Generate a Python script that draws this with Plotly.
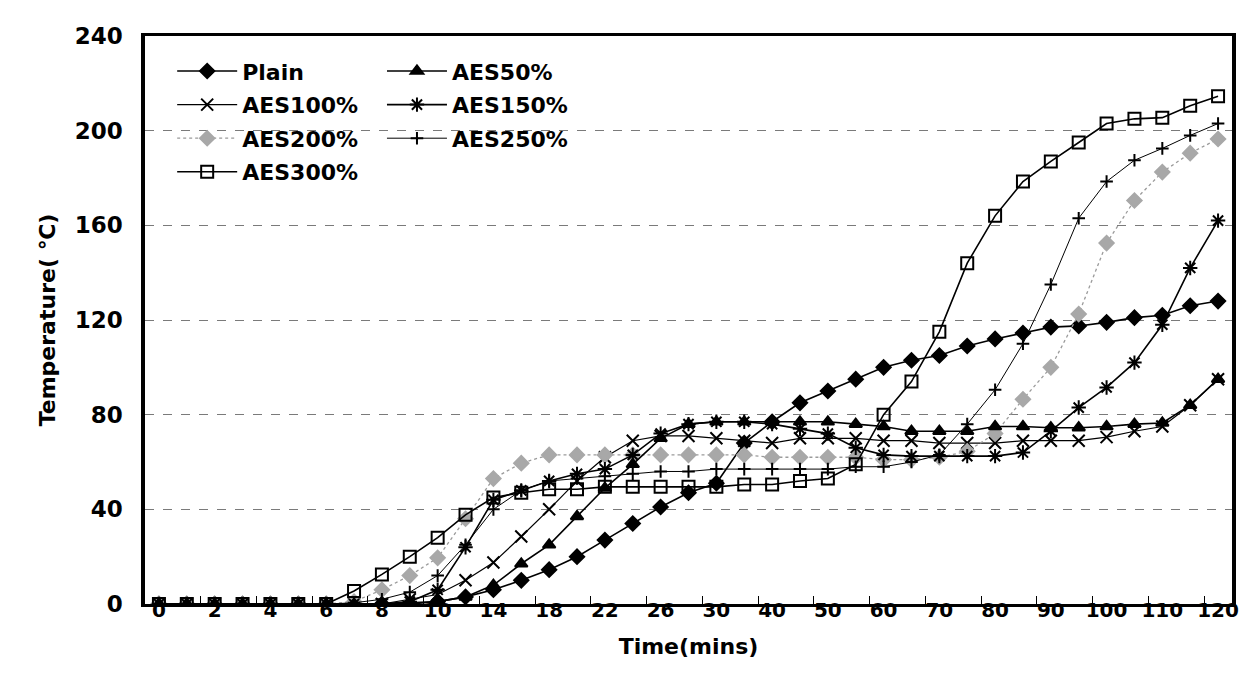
import plotly.graph_objects as go

# ---------------- data ----------------
time_cats = ["0", "1", "2", "3", "4", "5", "6", "7", "8", "9", "10", "12", "14", "16", "18", "20",
             "22", "24", "26", "28", "30", "35", "40", "45", "50", "55", "60", "65", "70", "75",
             "80", "85", "90", "95", "100", "105", "110", "115", "120"]

plain = [0, 0, 0, 0, 0, 0, 0, 0, 0, 0, 1, 3, 6, 10, 14.5, 20, 27, 34, 41, 47, 51, 68, 77, 85, 90,
         95, 100, 103, 105, 109, 112, 114.5, 117, 117.5, 119, 121, 122, 126, 128]
aes50 = [0, 0, 0, 0, 0, 0, 0, 0, 0, 0.5, 1, 3, 8, 17, 25, 37, 49, 59, 70, 76, 77, 77, 77, 77, 77,
         76, 75, 73, 73, 73, 75, 75, 74.5, 74.5, 75, 76, 76.5, 84, 95]
aes100 = [0, 0, 0, 0, 0, 0, 0, 0, 0, 2, 4, 10, 17.5, 28.5, 40, 52, 62, 69, 71, 71, 70, 69, 68, 70,
          70, 70, 69, 69, 68, 68, 68, 69, 69, 69, 70.5, 73, 75, 84, 95]
aes150 = [0, 0, 0, 0, 0, 0, 0, 0, 0, 1, 6, 24, 44, 48, 52, 55, 57, 63, 72, 76, 77, 77, 76, 74, 72,
          66, 63, 62.5, 62.5, 62.5, 62.5, 64, 73, 83, 91.5, 102, 118, 142, 162]
aes200 = [0, 0, 0, 0, 0, 0, 0, 1, 6, 12, 19.5, 36, 53, 59.5, 63, 63, 63, 63, 63, 63, 63, 63, 62,
          62, 62, 62, 61, 61, 62, 64.5, 72, 86.5, 100, 122.5, 152.5, 170.5, 182.5, 190.5, 196.5]
aes250 = [0, 0, 0, 0, 0, 0, 0, 0.5, 2, 5, 12, 25, 40, 48, 52, 53, 54, 55, 56, 56, 57, 57, 57, 57,
          57, 58, 58, 60, 63, 76, 90.5, 110, 135, 163, 178.5, 187.5, 192.5, 198, 203]
aes300 = [0, 0, 0, 0, 0, 0, 0, 5.5, 12.5, 20, 28, 37.7, 45, 47, 48.5, 48.5, 49.5, 49.5, 49.5, 49.5,
          49.5, 50.5, 50.5, 52, 53, 59, 80, 94, 115, 144, 164, 178.5, 187, 195, 203, 205, 205.5,
          210.5, 214.5]

y_ticks = [0, 40, 80, 120, 160, 200, 240]

# ---------------- figure ----------------
FONT = "DejaVu Sans"
fig = go.Figure()

def add(name, vals, symbol, msize, mcolor, mline, lcolor, lwidth, dash, legend):
    fig.add_trace(go.Scatter(
        x=time_cats, y=vals, name=name, mode="lines+markers",
        line=dict(color=lcolor, width=lwidth, dash=dash),
        marker=dict(symbol=symbol, size=msize, color=mcolor,
                    line=dict(color=mcolor if mline is None else mline, width=2)),
        legend=legend, legendgroup=name,
    ))

add("Plain", plain, "diamond", 11, "black", None, "black", 1.6, "solid", "legend")
add("AES100%", aes100, "x-thin", 12, "black", "black", "black", 1.2, "solid", "legend")
add("AES200%", aes200, "diamond", 11, "#a8a8a8", "#a8a8a8", "#9a9a9a", 1.3, "dot", "legend")
add("AES300%", aes300, "square-open", 12, "black", "black", "black", 1.6, "solid", "legend")
add("AES50%", aes50, "triangle-up", 11, "black", None, "black", 1.6, "solid", "legend2")
add("AES150%", aes150, "asterisk-open", 12, "black", "black", "black", 1.6, "solid", "legend2")
add("AES250%", aes250, "cross-thin-open", 9, "black", "black", "black", 1.0, "solid", "legend2")

legend_common = dict(
    bgcolor="rgba(0,0,0,0)", borderwidth=0, orientation="v",
    font=dict(family=FONT, size=22, color="black", weight="bold"),
    itemwidth=60, tracegroupgap=2, xanchor="left", yanchor="top",
)

fig.update_layout(
    width=1260, height=693,
    margin=dict(l=137, r=36, t=28, b=97),
    paper_bgcolor="white", plot_bgcolor="white",
    showlegend=True,
    legend=dict(x=0.025, y=0.975, **legend_common),
    legend2=dict(x=0.218, y=0.975, **legend_common),
    xaxis=dict(
        type="category", categoryorder="array", categoryarray=time_cats,
        range=[-0.5, len(time_cats) - 0.5],
        tickmode="linear", tick0=0, dtick=2, tickangle=0,
        tickson="boundaries", ticks="inside", ticklen=8, tickcolor="black", tickwidth=1,
        showgrid=False, showline=True, linecolor="black", linewidth=3, mirror=True,
        ticklabelstandoff=-14,
        tickfont=dict(family=FONT, size=20, color="black", weight="bold"),
        title=dict(text="Time(mins)", font=dict(family=FONT, size=22, color="black", weight="bold"),
                   standoff=18),
    ),
    yaxis=dict(
        range=[0, 240], tickmode="array", tickvals=y_ticks,
        showgrid=True, gridcolor="#7a7a7a", gridwidth=1.2, griddash="dash",
        showline=True, linecolor="black", linewidth=3.5, mirror=True,
        ticks="", zeroline=False, ticklabelstandoff=14,
        tickfont=dict(family=FONT, size=23, color="black", weight="bold"),
        title=dict(text="Temperature( ℃)", font=dict(family=FONT, size=22, color="black", weight="bold"),
                   standoff=14),
    ),
)

fig.write_html("out.html")
